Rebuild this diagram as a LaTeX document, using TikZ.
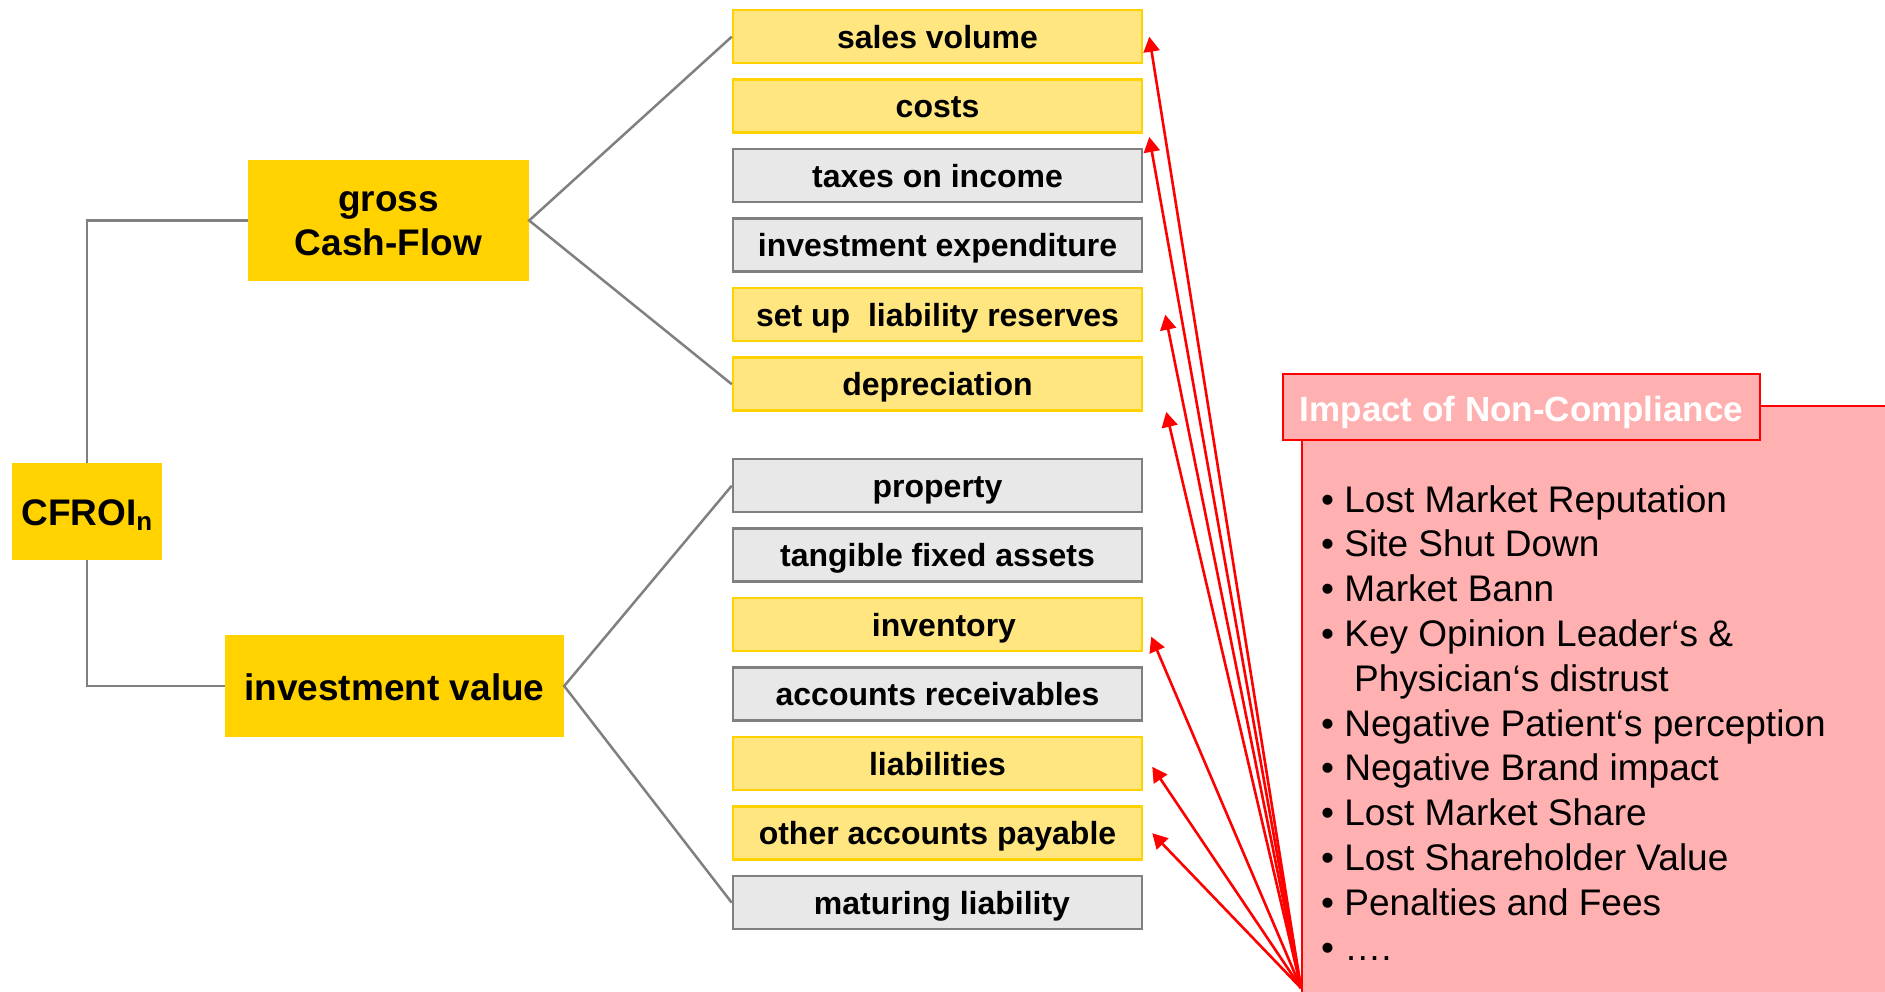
\documentclass[tikz,border=0pt]{standalone}
\usepackage{fontspec}
\setmainfont{Liberation Sans}
\usetikzlibrary{arrows.meta,positioning}

\definecolor{cfgold}{RGB}{255,210,0}
\definecolor{cfpale}{RGB}{255,230,128}
\definecolor{cfgraybox}{RGB}{232,232,232}
\definecolor{cfgrayline}{RGB}{128,128,128}
\definecolor{ncpink}{RGB}{255,176,176}
\definecolor{ncred}{RGB}{255,0,0}

\tikzset{
    topbox/.style={fill=cfgold, inner sep=0pt, align=center,
        font=\fontsize{37}{44}\selectfont\bfseries},
    itembox/.style={minimum width=409pt, minimum height=53pt, inner sep=0pt,
        line width=2.5pt, text height=23pt, text depth=0pt,
        font=\fontsize{32}{38}\selectfont\bfseries},
    yitem/.style={itembox, fill=cfpale, draw=cfgold},
    gitem/.style={itembox, fill=cfgraybox, draw=cfgrayline},
    treeline/.style={draw=cfgrayline, line width=2.5pt},
    hit/.style={draw=ncred, line width=2.6pt, -{Triangle[length=15pt,width=16pt]}},
    ncbox/.style={fill=ncpink, draw=ncred, line width=2.5pt},
    ncitem/.style={anchor=base west, inner sep=0pt, font=\fontsize{37}{45}\selectfont}
}

\begin{document}
\begin{tikzpicture}[x=1pt,y=-1pt]
    \useasboundingbox (0,0) rectangle (1885,991);
    \clip (0,0) rectangle (1885,991);

    % value driver tree
    \node[topbox, minimum width=150pt, minimum height=97pt, text height=28pt, text depth=0pt] (cfroi) at (87,511.5) {CFROI\textsubscript{n}};
    \node[topbox, minimum width=281pt, minimum height=121pt] (gcf) at (388.5,220.5) {\vphantom{C}gross\\Cash-Flow};
    \node[topbox, minimum width=339pt, minimum height=102pt, text height=28pt, text depth=0pt] (iv) at (394.5,686) {investment value};

    \foreach \nm/\txt/\sty/\yy in {
        sv/sales volume/yitem/36.7,
        co/costs/yitem/106.2,
        ti/taxes on income/gitem/175.7,
        ie/investment expenditure/gitem/245.2,
        sr/set up~ liability reserves/yitem/314.7,
        de/depreciation/yitem/384.2,
        pr/property/gitem/485.7,
        tf/tangible fixed assets/gitem/555.2,
        inv/\hspace*{13pt}inventory/yitem/624.7,
        ar/accounts receivables/gitem/694.2,
        li/liabilities/yitem/763.7,
        oa/other accounts payable/yitem/833.2,
        ml/\hspace*{9pt}maturing liability/gitem/902.7}
        \node[\sty] (\nm) at (937.5,\yy) {\txt};

    \draw[treeline] (cfroi.north) |- (gcf.west);
    \draw[treeline] (cfroi.south) |- (iv.west);
    \draw[treeline] (sv.west) -- (gcf.east) -- (de.west);
    \draw[treeline] (pr.west) -- (iv.east) -- (ml.west);

    % impact box
    \draw[ncbox] (1302,406) rectangle (1900,1010);
    \node[ncbox, minimum width=477pt, minimum height=66pt, inner sep=0pt, text=white,
        text height=29pt, text depth=0pt, font=\fontsize{35}{40}\selectfont\bfseries] (nct) at (1521.5,407) {Impact of Non-Compliance};

    \foreach \txt [count=\k from 0] in {
        • Lost Market Reputation,
        • Site Shut Down,
        • Market Bann,
        • Key Opinion Leader‘s \&,
        \hspace{33pt}Physician‘s distrust,
        • Negative Patient‘s perception,
        • Negative Brand impact,
        • Lost Market Share,
        • Lost Shareholder Value,
        • Penalties and Fees,
        • ….}
        \node[ncitem] (nc\k) at (1321,{512+44.8*\k}) {\txt};

    \coordinate (src) at (1301,988);
    \draw[hit] (src) -- ([xshift=6pt]sv.east);
    \draw[hit] (src) -- ([xshift=6pt,yshift=-3pt]co.south east);
    \draw[hit] (src) -- ([xshift=22pt]sr.east);
    \draw[hit] (src) -- ([xshift=23pt]de.south east);
    \draw[hit] (src) -- ([xshift=8pt,yshift=-12pt]inv.east);
    \draw[hit] (src) -- ([xshift=9pt,yshift=-3pt]li.east);
    \draw[hit] (src) -- ([xshift=9pt]oa.east);
\end{tikzpicture}
\end{document}
